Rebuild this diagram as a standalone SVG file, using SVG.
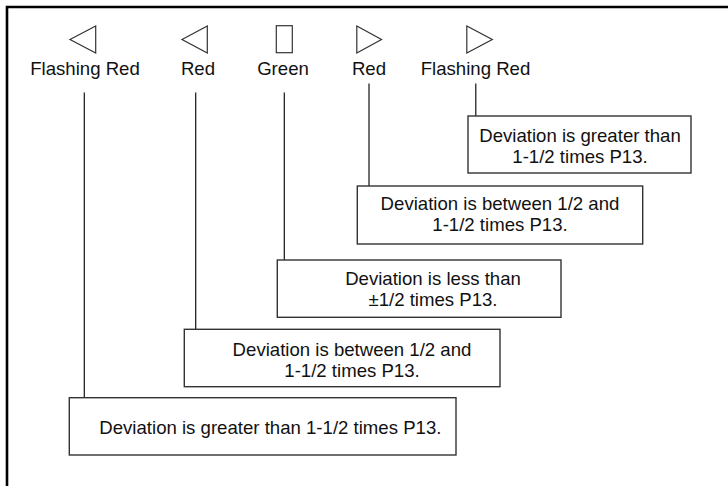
<svg xmlns="http://www.w3.org/2000/svg" width="728" height="486" viewBox="0 0 728 486">
<style>
.t{font-family:"Liberation Sans",Arial,sans-serif;font-size:18.6px;fill:#111;}
.m{text-anchor:middle;}
.box{fill:#fff;stroke:#333;stroke-width:1.4;}
.sym{fill:#fff;stroke:#333;stroke-width:1.2;}
.ln{stroke:#111;stroke-width:1.2;fill:none;}
</style>
<rect width="728" height="486" fill="#fff"/>
<path d="M7,486 V7 H728" fill="none" stroke="#000" stroke-width="2.6"/>
<g id="sig-flash-left">
<polygon class="sym" points="70,39.5 95.7,26 95.7,53"/>
<text class="t m" x="85" y="75">Flashing Red</text>
</g>
<g id="sig-red-left">
<polygon class="sym" points="182,39.5 207.3,26 207.3,53"/>
<text class="t m" x="198" y="75">Red</text>
</g>
<g id="sig-green">
<rect class="sym" x="276.3" y="25.7" width="16" height="27"/>
<text class="t m" x="283" y="75">Green</text>
</g>
<g id="sig-red-right">
<polygon class="sym" points="356.8,26 356.8,53 381.5,39.5"/>
<text class="t m" x="369" y="75">Red</text>
</g>
<g id="sig-flash-right">
<polygon class="sym" points="466.8,26 466.8,53 492.3,39.5"/>
<text class="t m" x="475.5" y="75">Flashing Red</text>
</g>
<g id="connectors">
<line class="ln" x1="84.3" y1="92.5" x2="84.3" y2="398"/>
<line class="ln" x1="195.7" y1="92.5" x2="195.7" y2="329.5"/>
<line class="ln" x1="284.3" y1="92.5" x2="284.3" y2="260"/>
<line class="ln" x1="369" y1="83.5" x2="369" y2="186"/>
<line class="ln" x1="475.8" y1="83.5" x2="475.8" y2="116"/>
</g>
<g id="box-flash-right">
<rect class="box" x="468" y="116" width="223" height="57"/>
<text class="t m" x="580" y="141.5">Deviation is greater than</text>
<text class="t m" x="580" y="163">1-1/2 times P13.</text>
</g>
<g id="box-red-right">
<rect class="box" x="357.3" y="186" width="285.4" height="58"/>
<text class="t m" x="500" y="210">Deviation is between 1/2 and</text>
<text class="t m" x="500" y="231">1-1/2 times P13.</text>
</g>
<g id="box-green">
<rect class="box" x="277.3" y="260" width="283.7" height="57.3"/>
<text class="t m" x="433" y="285">Deviation is less than</text>
<text class="t m" x="433" y="306">±1/2 times P13.</text>
</g>
<g id="box-red-left">
<rect class="box" x="184.3" y="329.3" width="315.7" height="57.4"/>
<text class="t m" x="352" y="356">Deviation is between 1/2 and</text>
<text class="t m" x="352" y="377">1-1/2 times P13.</text>
</g>
<g id="box-flash-left">
<rect class="box" x="69.3" y="397.7" width="386.7" height="57.3"/>
<text class="t" x="99.3" y="434">Deviation is greater than 1-1/2 times P13.</text>
</g>
</svg>
